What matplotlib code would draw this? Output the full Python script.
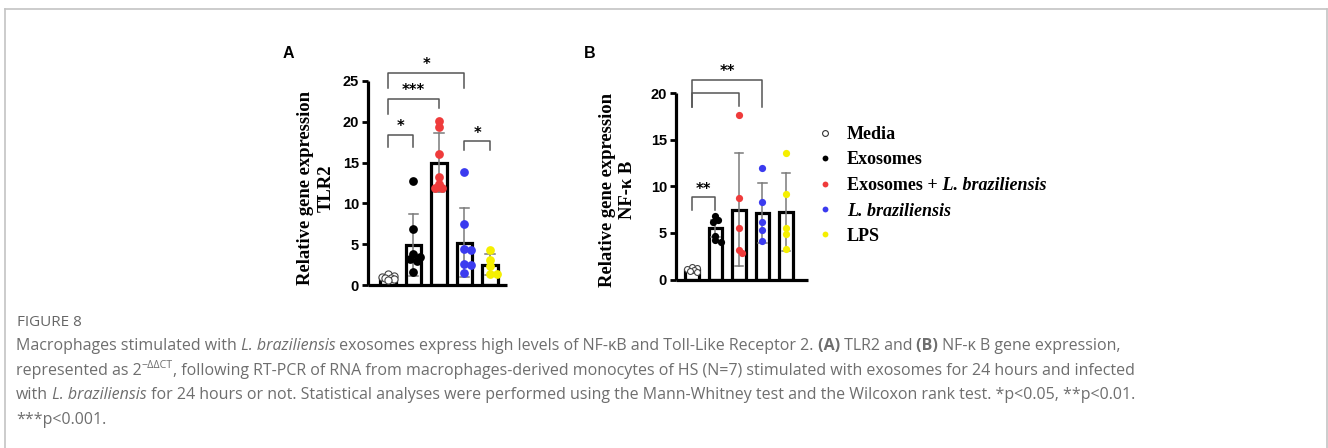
import numpy as np
import matplotlib
matplotlib.use("Agg")
import matplotlib.pyplot as plt
from matplotlib.lines import Line2D

# ---------------- data ----------------
groups = ["Media", "Exosomes", "Exosomes + L. braziliensis", "L. braziliensis", "LPS"]
colors = ["white", "black", "#ef3b3b", "#3b3bef", "#f5ef00"]

tlr2_points = [
    [1.3, 1.15, 1.0, 0.9, 0.8, 0.7, 0.6],
    [12.8, 6.9, 3.8, 3.4, 3.2, 3.0, 1.6],
    [20.1, 19.4, 16.1, 13.2, 12.4, 11.9, 11.9],
    [13.8, 7.5, 4.4, 4.3, 2.6, 2.5, 1.5],
    [4.3, 3.1, 2.3, 1.4, 1.4],
]
tlr2_mean = [0.85, 4.9, 14.95, 5.2, 2.5]
tlr2_sd_hi = [1.05, 8.7, 18.6, 9.45, 3.8]
tlr2_sd_lo = [0.65, 1.1, 11.4, 1.0, 1.25]

nfkb_points = [
    [1.35, 1.25, 1.1, 1.0, 0.9, 0.8],
    [6.8, 6.4, 6.2, 4.7, 4.2, 4.0],
    [17.6, 8.7, 5.5, 3.2, 2.8],
    [12.0, 8.3, 6.2, 5.3, 4.1],
    [13.6, 9.2, 5.5, 4.9, 3.3],
]
nfkb_mean = [1.0, 5.5, 7.5, 7.1, 7.2]
nfkb_sd_hi = [1.2, 6.4, 13.6, 10.3, 11.4]
nfkb_sd_lo = [0.8, 4.6, 1.4, 3.9, 3.1]

tlr2_ticks = [0, 5, 10, 15, 20, 25]
nfkb_ticks = [0, 5, 10, 15, 20]

# brackets: (group_i, group_j, top, left_leg_bottom, right_leg_bottom, label)
tlr2_brackets = [
    (0, 3, 26.0, 24.1, 24.1, "*"),
    (0, 2, 22.8, 21.0, 21.7, "***"),
    (0, 1, 18.4, 16.9, 16.9, "*"),
    (3, 4, 17.6, 16.6, 16.6, "*"),
]
nfkb_brackets = [
    (0, 3, 21.4, 18.5, 18.5, "**"),
    (0, 2, 20.0, 18.5, 18.6, ""),
    (0, 1, 8.8, 7.5, 7.5, "**"),
]

W, H = 1328, 448
fig = plt.figure(figsize=(W / 100, H / 100), dpi=100)
fig.patch.set_facecolor("white")


def fx(px):
    return px / W


def fy(py):
    return 1 - py / H


# frame
for xs, ys in [([4.5, 1327], [9.5, 9.5]), ([4.5, 4.5], [9.5, 460]), ([1327, 1327], [9.5, 460])]:
    fig.add_artist(Line2D([fx(x) for x in xs], [fy(y) for y in ys], color="#c4c4c4", lw=1.2))

renderer = fig.canvas.get_renderer()


def swarm(ax, xc, vals, diam_px, maxoff_px, sep=0.6):
    """overlapping beeswarm offsets (display space), limited to bar width"""
    trans = ax.transData
    order = np.argsort(vals)[::-1]
    placed = []
    xs = np.zeros(len(vals))
    step = diam_px * 0.4
    cand = [0.0]
    s = 1
    while s * step <= maxoff_px:
        cand += [s * step, -s * step]
        s += 1
    for i in order:
        px0, py = trans.transform((xc, vals[i]))
        best, bestd = cand[0], -1
        for dx in cand:
            d = min([np.hypot(px0 + dx - qx, py - qy) for qx, qy in placed] + [1e9])
            if d >= diam_px * sep:
                best = dx
                break
            if d > bestd:
                best, bestd = dx, d
        placed.append((px0 + best, py))
        xs[i] = trans.inverted().transform((px0 + best, py))[0]
    return xs


def panel(rect, pts, means, hi, lo, ticks, ymax, xlim, barw, brackets, ms):
    ax = fig.add_axes(rect)
    ax.set_xlim(*xlim)
    ax.set_ylim(0, ymax)
    for s in ["top", "right"]:
        ax.spines[s].set_visible(False)
    for s in ["left", "bottom"]:
        ax.spines[s].set_linewidth(2.3)
        ax.spines[s].set_capstyle("butt")
    ax.set_xticks([])
    ax.set_yticks(ticks)
    ax.tick_params(axis="y", length=4.5, width=2.0, pad=2)
    for lab in ax.get_yticklabels():
        lab.set_fontfamily("Liberation Sans")
        lab.set_fontweight("bold")
        lab.set_fontsize(10.5)
    x = np.arange(len(means))
    ax.bar(x, means, width=barw, color="white", edgecolor="black", linewidth=2.3, zorder=2)
    for i in range(len(means)):
        ax.plot([i, i], [lo[i], hi[i]], color="#7a7a7a", lw=1.1, zorder=3)
        for yv in (lo[i], hi[i]):
            ax.plot([i - barw * 0.32, i + barw * 0.32], [yv, yv], color="#7a7a7a", lw=1.1, zorder=3)
    fig.canvas.draw()
    bar_px = ax.transData.transform((barw, 0))[0] - ax.transData.transform((0, 0))[0]
    for i, vals in enumerate(pts):
        if i == 0:
            m = ms * 0.82
            xs = swarm(ax, i, np.array(vals), m * 100 / 72, bar_px * 0.42, sep=0.75)
            ax.plot(xs, vals, "o", ms=m, mfc="white", mec="#444444", mew=0.8, zorder=4, clip_on=False)
        else:
            xs = swarm(ax, i, np.array(vals), ms * 100 / 72, bar_px * 0.6)
            ax.plot(xs, vals, "o", ms=ms, mfc=colors[i], mec=colors[i], mew=0, zorder=4, clip_on=False)
    for (a, b, top, la, lb, lab) in brackets:
        ax.plot([a, a, b, b], [la, top, top, lb], color="#555555", lw=1.1, clip_on=False, zorder=5)
        if lab:
            ax.text((a + b) / 2, top + ymax * 0.003, lab, ha="center", va="bottom", fontsize=10.5,
                    fontweight="bold", family="DejaVu Sans", clip_on=False)
    return ax


# panel A : axis x 368..507 px, y0 at 285, y25 at 81
axA = panel([fx(368), fy(285), fx(507) - fx(368), (285 - 81) / H],
            tlr2_points, tlr2_mean, tlr2_sd_hi, tlr2_sd_lo, tlr2_ticks, 25,
            (-0.78, 4.67), 0.6, tlr2_brackets, 6.3)
# panel B : axis x 676..808 px, y0 at 279.5, y20 at 93
axB = panel([fx(676), fy(279.5), fx(808) - fx(676), (279.5 - 93) / H],
            nfkb_points, nfkb_mean, nfkb_sd_hi, nfkb_sd_lo, nfkb_ticks, 20,
            (-0.68, 4.94), 0.58, nfkb_brackets, 5.2)

# y labels
serif = "Liberation Serif"
ls = 13.4
fig.text(fx(305), fy(188), "Relative gene expression", rotation=90, ha="center", va="center",
         family=serif, fontweight="bold", fontsize=ls)
fig.text(fx(326), fy(188), "TLR2", rotation=90, ha="center", va="center",
         family=serif, fontweight="bold", fontsize=ls)
fig.text(fx(607), fy(190), "Relative gene expression", rotation=90, ha="center", va="center",
         family=serif, fontweight="bold", fontsize=ls)
fig.text(fx(628), fy(190), "NF-\u03ba B", rotation=90, ha="center", va="center",
         family=serif, fontweight="bold", fontsize=ls)

# panel letters
fig.text(fx(283), fy(58), "A", family="Liberation Sans", fontweight="bold", fontsize=11.5, va="baseline")
fig.text(fx(584), fy(58), "B", family="Liberation Sans", fontweight="bold", fontsize=11.5, va="baseline")


def rich(x_px, y_px, parts, size, color, family, va="baseline"):
    x = fx(x_px)
    for txt, style, weight, dy, sz in parts:
        t = fig.text(x, fy(y_px + dy), txt, fontsize=size * sz, color=color, family=family,
                     fontstyle=style, fontweight=weight, va=va, ha="left")
        bb = t.get_window_extent(renderer)
        x += bb.width / W


# legend
leg_y = [132.5, 158, 183.5, 209, 234.5]
leg_parts = [
    [("Media", "normal", "bold", 0, 1)],
    [("Exosomes", "normal", "bold", 0, 1)],
    [("Exosomes +", "normal", "bold", 0, 1), (" L. braziliensis", "italic", "bold", 0, 1)],
    [("L. braziliensis", "italic", "bold", 0, 1)],
    [("LPS", "normal", "bold", 0, 1)],
]
for i, (yy, parts) in enumerate(zip(leg_y, leg_parts)):
    if i == 0:
        fig.add_artist(Line2D([fx(825)], [fy(yy)], marker="o", ms=4.2, mfc="white", mec="#333333", mew=0.8))
    else:
        fig.add_artist(Line2D([fx(825)], [fy(yy)], marker="o", ms=4.2, mfc=colors[i], mec=colors[i], mew=0))
    rich(847, yy, parts, 13.0, "black", serif, va="center_baseline")

# caption
cap_font = "Open Sans"
cap_col = "#6e6e6e"
cs = 11.55
fig.text(fx(17), fy(326), "FIGURE 8", fontsize=cs * 0.95, color="#666666", family=cap_font, va="baseline")
N, I, B = "normal", "italic", "bold"
lines = [
    [("Macrophages stimulated with", N, N, 0, 1), (" L. braziliensis", I, N, 0, 1),
     (" exosomes express high levels of NF-\u03baB and Toll-Like Receptor 2.", N, N, 0, 1),
     (" (A)", N, B, 0, 1), (" TLR2 and", N, N, 0, 1), (" (B)", N, B, 0, 1),
     (" NF-\u03ba B gene expression,", N, N, 0, 1)],
    [("represented as 2", N, N, 0, 1), ("\u2212\u0394\u0394CT", N, N, -6.5, 0.66),
     (", following RT-PCR of RNA from macrophages-derived monocytes of HS (N=7) stimulated with exosomes for 24 hours and infected", N, N, 0, 1)],
    [("with", N, N, 0, 1), (" L. braziliensis", I, N, 0, 1),
     (" for 24 hours or not. Statistical analyses were performed using the Mann-Whitney test and the Wilcoxon rank test. *p<0.05, **p<0.01.", N, N, 0, 1)],
    [("***p<0.001.", N, N, 0, 1)],
]
base = [350, 374.5, 399, 423.5]
for yy, parts in zip(base, lines):
    rich(16, yy, parts, cs, cap_col, cap_font)

fig.savefig("out.png", dpi=100, facecolor="white")
